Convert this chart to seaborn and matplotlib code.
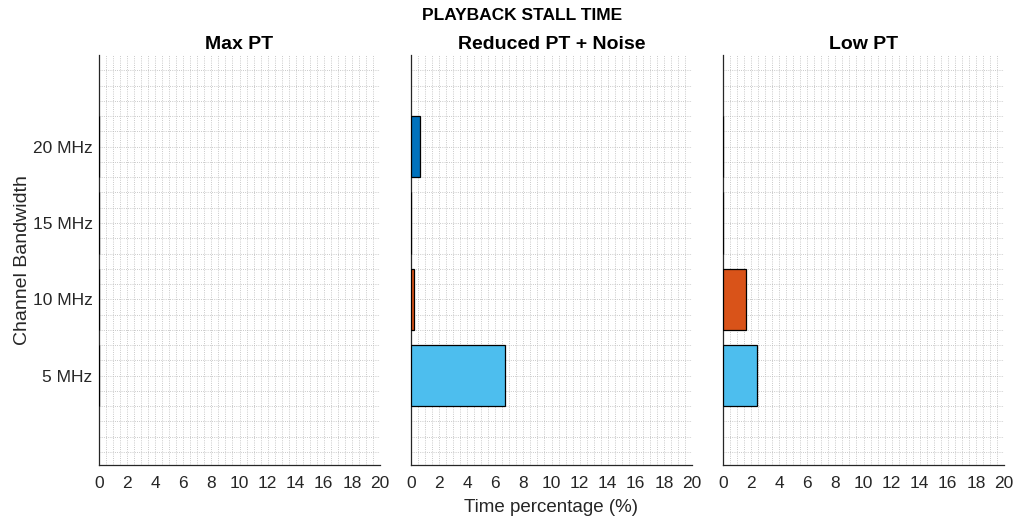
import numpy as np
import pandas as pd
import matplotlib
matplotlib.use("Agg")
import matplotlib.pyplot as plt
import seaborn as sns

# ---- data ----
bandwidths = [5, 10, 15, 20]
bw_labels = ["5 MHz", "10 MHz", "15 MHz", "20 MHz"]
panel_titles = ["Max PT", "Reduced PT + Noise", "Low PT"]
max_pt = [0.0, 0.0, 0.0, 0.0]
reduced_pt_noise = [6.7, 0.2, 0.0, 0.65]
low_pt = [2.4, 1.63, 0.0, 0.0]
series = [max_pt, reduced_pt_noise, low_pt]
bar_colors = {5: "#4DBEEE", 10: "#D95319", 15: "#EDB120", 20: "#0072BD"}
x_ticks = list(range(0, 21, 2))

sns.set_theme(style="white")
plt.rcParams["font.family"] = ["Liberation Sans", "DejaVu Sans"]

fig = plt.figure(figsize=(10.18, 5.2), dpi=100)
W, H = 1018, 520
lefts = [99, 411, 723]
top, bottom = 55, 465
width = 281

axes = []
for i, (vals, title) in enumerate(zip(series, panel_titles)):
    ax = fig.add_axes([lefts[i] / W, 1 - bottom / H, width / W, (bottom - top) / H])
    axes.append(ax)
    df = pd.DataFrame({"bw": bandwidths, "val": vals})
    sns.barplot(data=df, x="val", y="bw", hue="bw", palette=bar_colors,
                orient="h", native_scale=True, width=0.8, errorbar=None,
                saturation=1, legend=False, edgecolor="black", linewidth=0.9,
                ax=ax, zorder=3)
    ax.set_xlim(0, 20)
    ax.set_ylim(-0.85, 26)
    ax.set_xticks(x_ticks)
    ax.set_xticks(np.arange(0, 20.01, 0.5), minor=True)
    ax.set_yticks(bandwidths)
    ax.set_yticks(np.arange(0, 26, 1), minor=True)
    ax.grid(True, which="both", linestyle=":", linewidth=0.6, color="#b8b8b8", zorder=0)
    ax.set_axisbelow(True)
    for s in ["top", "right"]:
        ax.spines[s].set_visible(False)
    for s in ["left", "bottom"]:
        ax.spines[s].set_color("#262626")
        ax.spines[s].set_linewidth(0.9)
    ax.tick_params(axis="both", which="major", direction="in", length=4, width=0.8,
                   colors="#262626", labelsize=12.5)
    ax.tick_params(axis="x", which="major", pad=8)
    ax.tick_params(axis="y", which="major", pad=4.5)
    ax.tick_params(axis="both", which="minor", length=0)
    ax.set_xticklabels([str(t) for t in x_ticks])
    if i == 0:
        ax.set_yticklabels(bw_labels)
        ax.set_ylabel("Channel Bandwidth", fontsize=14, color="#262626", labelpad=1)
    else:
        ax.set_yticklabels([])
        ax.set_ylabel("")
    if i == 1:
        ax.set_xlabel("Time percentage (%)", fontsize=13.5, color="#262626", labelpad=6)
    else:
        ax.set_xlabel("")
    ax.set_title(title, fontsize=14, fontweight="bold", color="black", pad=4)

fig.text(522 / W, 1 - 15 / H, "PLAYBACK STALL TIME", ha="center", va="center",
         fontsize=12.5, fontweight="bold", color="black")

fig.savefig("out.png", dpi=100)
